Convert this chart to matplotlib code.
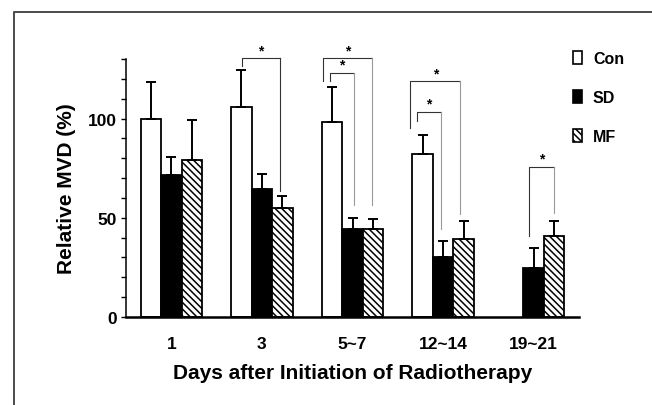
import numpy as np
import matplotlib.pyplot as plt
from matplotlib.patches import Patch
from matplotlib.lines import Line2D

plt.rcParams["font.family"] = ["Liberation Sans", "DejaVu Sans"]
plt.rcParams["font.weight"] = "bold"
plt.rcParams["hatch.linewidth"] = 1.1

days = ["1", "3", "5~7", "12~14", "19~21"]
con = [100, 106, 98.2, 82.1, np.nan]
con_err = [18.6, 18.4, 17.7, 9.4, np.nan]
sd = [71.4, 64.7, 44.3, 30.3, 24.9]
sd_err = [9.2, 7.5, 5.7, 7.8, 9.9]
mf = [79.1, 54.7, 44.3, 39.3, 41.0]
mf_err = [20.1, 6.5, 4.9, 9.2, 7.5]

# significance brackets: x left, x right, left leg bottom, right leg bottom, top
brackets = [
    (-0.22, 0.20, 126.4, 63.5, 130.5),
    (-0.33, 0.22, 118.7, 56.3, 130.5),
    (-0.25, 0.02, 118.7, 56.3, 123.0),
    (-0.36, 0.19, 95.3, 51.8, 118.7),
    (-0.29, -0.02, 98.6, 44.2, 103.4),
    (-0.05, 0.22, 40.9, 52.6, 75.7),
]
bracket_group = [1, 2, 2, 3, 3, 4]

fig = plt.figure(figsize=(6.52, 4.06), dpi=100)
ax = fig.add_axes([126 / 652, 88 / 406, 453 / 652, 258 / 406])

x = np.arange(len(days))
w = 0.226
err_kw = dict(fmt="none", ecolor="black", elinewidth=1.4, capsize=3.6, capthick=1.4)

ax.bar(x - w, con, w, color="white", edgecolor="black", linewidth=1.3, label="Con")
ax.errorbar(x - w, con, yerr=[np.zeros(5), con_err], **err_kw)
ax.bar(x, sd, w, color="black", edgecolor="black", linewidth=1.3, label="SD")
ax.errorbar(x, sd, yerr=[np.zeros(5), sd_err], **err_kw)
ax.bar(x + w, mf, w, color="white", edgecolor="black", hatch="\\\\\\\\\\",
       linewidth=1.3, label="MF")
ax.errorbar(x + w, mf, yerr=[np.zeros(5), mf_err], **err_kw)

for (xl, xr, yl, yr, yt), g in zip(brackets, bracket_group):
    ax.plot([g + xl, g + xl, g + xr], [yl, yt, yt], color="#333333", lw=0.8,
            clip_on=False)
    ax.plot([g + xr, g + xr], [yt, yr], color="#999999" if g > 1 else "#333333",
            lw=0.8, clip_on=False)
    ax.text(g + (xl + xr) / 2, yt + 4, "*", ha="center", va="center",
            fontsize=10, clip_on=False)

ax.set_xlim(-0.5, 4.5)
ax.set_ylim(0, 130)
ax.set_xticks(x)
ax.set_xticklabels(days, fontsize=12.5, fontweight="bold")
ax.tick_params(axis="x", length=0, pad=14)
ax.set_yticks([0, 50, 100])
ax.set_yticks(np.arange(0, 131, 10), minor=True)
ax.tick_params(axis="y", which="both", direction="out", length=3.4, width=1.0,
               labelsize=12.5, pad=3)
ax.spines["top"].set_visible(False)
ax.spines["right"].set_visible(False)
ax.spines["left"].set_linewidth(1.1)
ax.spines["bottom"].set_linewidth(1.8)
ax.set_xlabel("Days after Initiation of Radiotherapy", fontsize=15,
              fontweight="bold", labelpad=8)
ax.set_ylabel("Relative MVD (%)", fontsize=15, fontweight="bold", labelpad=9)

handles = [
    Patch(facecolor="white", edgecolor="black", linewidth=1.2),
    Patch(facecolor="black", edgecolor="black", linewidth=1.2),
    Patch(facecolor="white", edgecolor="black", hatch="\\\\\\\\\\", linewidth=1.2),
]
fig.legend(handles, ["Con", "SD", "MF"], loc="upper left",
           bbox_to_anchor=(573 / 652, 1 - 52 / 406), frameon=False,
           fontsize=11.5, handlelength=0.55, handleheight=0.85, handletextpad=0.7,
           labelspacing=1.5, borderpad=0, borderaxespad=0)

# outer frame (left and top edges visible)
fig.add_artist(Line2D([14 / 652, 14 / 652, 1], [0, 1 - 13 / 406, 1 - 13 / 406],
                      transform=fig.transFigure, color="#4a4a4a", lw=1.4))

fig.savefig("out.png", dpi=100)
